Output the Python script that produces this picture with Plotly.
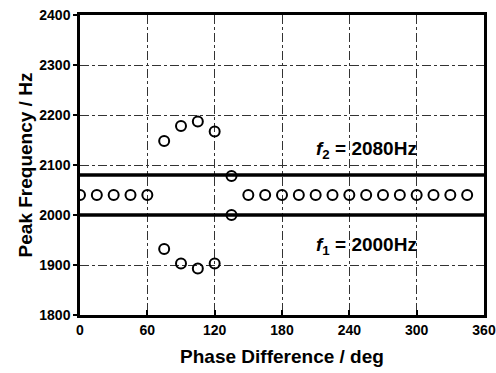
import plotly.graph_objects as go

# Data
phase_const = [0, 15, 30, 45, 60, 150, 165, 180, 195, 210, 225, 240, 255, 270, 285, 300, 315, 330, 345]
freq_const = [2040] * len(phase_const)
phase_split = [75, 90, 105, 120, 135]
freq_upper = [2148, 2178, 2187, 2167, 2078]
freq_lower = [1932, 1903, 1893, 1903, 2000]
f1 = 2000
f2 = 2080
x_ticks = [0, 60, 120, 180, 240, 300, 360]
y_ticks = [1800, 1900, 2000, 2100, 2200, 2300, 2400]

font_family = "Arial, Liberation Sans, sans-serif"
marker = dict(symbol="circle-open", size=10, color="black", line=dict(width=2, color="black"))

fig = go.Figure()
for y in (f1, f2):
    fig.add_trace(go.Scatter(x=[0, 360], y=[y, y], mode="lines",
                             line=dict(color="black", width=3.5), showlegend=False, hoverinfo="skip"))
fig.add_trace(go.Scatter(x=phase_const, y=freq_const, mode="markers", marker=marker, showlegend=False))
fig.add_trace(go.Scatter(x=phase_split, y=freq_upper, mode="markers", marker=marker, showlegend=False))
fig.add_trace(go.Scatter(x=phase_split, y=freq_lower, mode="markers", marker=marker, showlegend=False))

fig.add_annotation(x=302, y=2130, xref="x", yref="y", xanchor="right", yanchor="middle",
                   text="<i>f</i><sub>2</sub> = 2080Hz", showarrow=False,
                   font=dict(family=font_family, size=19, color="black", weight="bold"))
fig.add_annotation(x=302, y=1938, xref="x", yref="y", xanchor="right", yanchor="middle",
                   text="<i>f</i><sub>1</sub> = 2000Hz", showarrow=False,
                   font=dict(family=font_family, size=19, color="black", weight="bold"))

fig.update_layout(
    width=496, height=373,
    margin=dict(l=80, r=12, t=15, b=58),
    paper_bgcolor="white", plot_bgcolor="white",
    font=dict(family=font_family, color="black"),
)
fig.update_xaxes(
    range=[0, 360], tickvals=x_ticks, automargin=False,
    showline=True, linecolor="black", linewidth=2.5, mirror=True,
    ticks="inside", ticklen=5, tickwidth=2, tickcolor="black",
    showgrid=True, gridcolor="#333333", gridwidth=1, griddash="dashdot",
    zeroline=False,
    tickfont=dict(size=14, family=font_family, weight="bold"),
    title=dict(text="Phase Difference / deg", font=dict(size=19, family=font_family, weight="bold"), standoff=14),
)
fig.update_yaxes(
    range=[1800, 2400], tickvals=y_ticks, automargin=False,
    showline=True, linecolor="black", linewidth=2.5, mirror=True,
    ticks="outside", ticklen=4, tickwidth=2, tickcolor="black",
    showgrid=True, gridcolor="#333333", gridwidth=1, griddash="dashdot",
    zeroline=False,
    tickfont=dict(size=14, family=font_family, weight="bold"),
    title=dict(text="Peak Frequency / Hz", font=dict(size=19, family=font_family, weight="bold"), standoff=2),
)

fig.write_html("out.html")
